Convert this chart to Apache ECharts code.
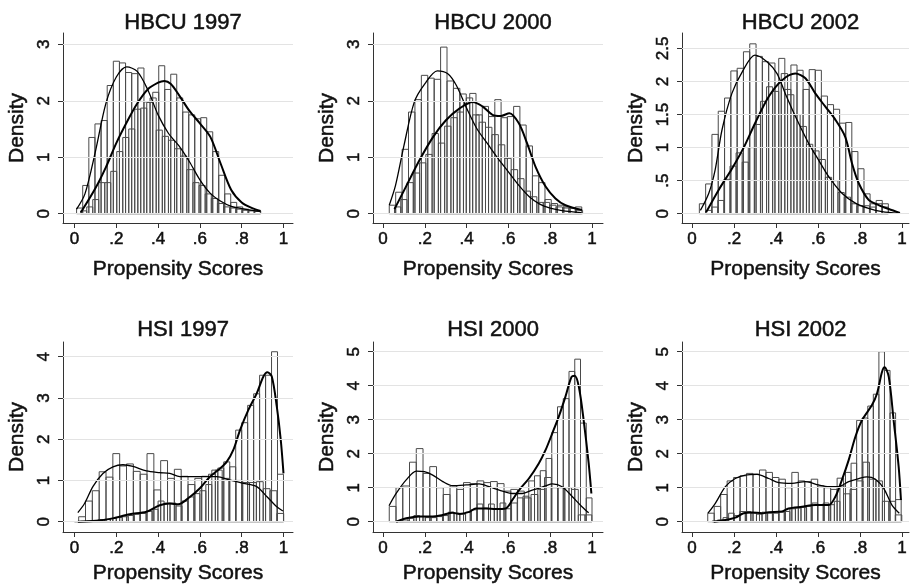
<!DOCTYPE html>
<html><head><meta charset="utf-8">
<script src="https://cdn.jsdelivr.net/npm/echarts@6/dist/echarts.min.js"></script>
<style>html,body{margin:0;padding:0;background:#fff}#c{width:910px;height:587px}</style>
</head><body><div id="c"></div><script>
// ---------------- DATA ----------------
const titles = ['HBCU 1997', 'HBCU 2000', 'HBCU 2002', 'HSI 1997', 'HSI 2000', 'HSI 2002'];
const xTicks = [0, 0.2, 0.4, 0.6, 0.8, 1];
const yTicksHBCU = [0, 1, 2, 3];
const yTicksHBCU02 = [0, 0.5, 1, 1.5, 2, 2.5];
const yTicksHSI97 = [0, 1, 2, 3, 4];
const yTicksHSI = [0, 1, 2, 3, 4, 5];

// histogram bins: first left edge and bin width (control / treated)
const ctrlBinStart = [0.01, 0.03, 0.035, 0.02, 0.03, 0.075];
const ctrlBinWidth = [0.0293, 0.0307, 0.03, 0.0327, 0.0323, 0.0308];
const trtBinStart = [0.03, 0.055, 0.065, 0.0, 0.065, 0.095];
const trtBinWidth = [0.0287, 0.03, 0.029, 0.02857, 0.0275, 0.0265];

// histogram heights (density)
const hbcu97Ctrl = [0.10,0.50,1.35,1.59,1.65,2.27,2.70,2.67,2.50,2.48,2.58,1.98,2.05,1.48,1.37,1.30,1.15,1.02,0.78,0.55,0.50,0.35,0.27,0.18,0.12,0.10,0.08,0.06,0.05,0.04];
const hbcu97Trt = [0.05,0.12,0.25,0.55,0.55,0.75,1.10,1.35,1.50,1.85,1.87,1.97,2.15,2.62,2.20,2.47,2.05,1.80,1.75,1.68,1.70,1.45,1.10,0.68,0.35,0.20,0.12,0.08,0.06,0.05];
const hbcu00Ctrl = [0.15,0.38,1.14,1.80,2.02,2.45,2.40,2.38,2.95,2.35,2.22,2.12,2.05,1.75,1.62,1.53,1.40,1.22,0.98,0.78,0.62,0.40,0.30,0.20,0.20,0.15,0.12,0.10,0.10,0.12];
const hbcu00Trt = [0.12,0.25,0.55,0.72,0.90,1.05,1.42,1.25,1.55,1.70,1.80,1.95,2.13,1.75,1.90,1.72,2.02,1.70,1.72,1.90,1.57,1.20,0.67,0.55,0.25,0.18,0.15,0.12,0.10,0.06];
const hbcu02Ctrl = [0.15,0.45,1.20,1.55,1.75,2.16,2.20,2.45,2.57,2.38,2.30,2.28,2.00,2.12,1.80,1.50,1.32,1.05,0.95,0.82,0.55,0.50,0.32,0.25,0.15,0.12,0.12,0.10,0.15,0.10];
const hbcu02Trt = [0.05,0.10,0.20,0.52,0.72,0.92,0.78,1.00,1.35,1.70,1.92,1.85,2.35,1.88,2.25,2.17,1.88,2.18,2.17,1.78,1.65,1.58,1.37,1.38,0.94,0.68,0.30,0.15,0.20,0.15];
const hsi97Ctrl = [0.12,0.50,0.75,1.21,1.08,1.65,1.35,1.40,1.22,1.15,1.65,0.77,1.48,1.05,1.27,1.10,0.90,1.05,1.10,1.15,1.25,1.05,1.00,1.00,0.95,0.95,0.97,0.80,0.75,0.20];
const hsi97Trt = [0.00,0.01,0.02,0.03,0.05,0.06,0.08,0.10,0.12,0.15,0.18,0.20,0.25,0.30,0.50,0.45,0.45,0.38,0.50,0.60,0.68,0.75,0.90,1.25,1.30,1.45,1.33,2.22,2.40,2.82,3.10,3.55,3.55,4.12,1.15];
const hsi00Ctrl = [0.45,1.00,1.05,1.75,2.15,1.42,1.62,1.00,0.80,1.05,0.95,1.15,1.12,1.20,1.15,1.18,1.12,0.90,0.95,0.90,0.70,0.80,0.95,1.30,1.00,1.00,1.00,0.95,0.20,0.20];
const hsi00Trt = [0.02,0.05,0.10,0.18,0.15,0.12,0.12,0.15,0.18,0.28,0.25,0.22,0.28,0.35,0.52,0.40,0.52,0.38,0.55,0.38,0.55,0.70,0.75,1.20,1.35,1.50,1.86,2.62,3.38,3.62,4.42,4.78,2.90,0.70];
const hsi02Ctrl = [0.25,0.45,0.80,1.20,1.30,1.35,1.42,1.40,1.52,1.45,1.30,1.25,1.00,1.45,1.20,1.18,1.25,1.05,1.00,0.95,1.28,0.82,0.95,1.20,1.75,1.25,1.20,0.60,0.60,0.20];
const hsi02Trt = [0.02,0.05,0.12,0.25,0.18,0.30,0.30,0.25,0.22,0.28,0.25,0.25,0.28,0.30,0.38,0.40,0.42,0.45,0.55,0.50,0.55,0.50,0.60,1.05,1.45,1.72,2.98,3.05,3.40,3.75,5.00,4.45,3.20,0.65];

// kernel density curves [score, density]
const hbcu97CtrlKd = [[0.01,0.08],[0.05,0.35],[0.1,1.1],[0.15,1.95],[0.2,2.42],[0.25,2.6],[0.3,2.52],[0.35,2.2],[0.4,1.75],[0.45,1.42],[0.5,1.2],[0.55,0.92],[0.6,0.6],[0.65,0.36],[0.7,0.22],[0.75,0.13],[0.8,0.09],[0.85,0.06],[0.89,0.04]];
const hbcu97TrtKd = [[0.03,0.02],[0.1,0.45],[0.15,0.82],[0.2,1.25],[0.25,1.62],[0.3,1.95],[0.35,2.2],[0.4,2.32],[0.43,2.35],[0.46,2.3],[0.5,2.1],[0.55,1.82],[0.6,1.6],[0.65,1.36],[0.7,0.88],[0.75,0.42],[0.8,0.2],[0.85,0.1],[0.89,0.05]];
const hbcu00CtrlKd = [[0.03,0.15],[0.06,0.5],[0.1,1.2],[0.15,1.98],[0.2,2.3],[0.26,2.53],[0.31,2.48],[0.35,2.28],[0.4,1.87],[0.45,1.5],[0.5,1.24],[0.55,0.98],[0.6,0.74],[0.65,0.5],[0.7,0.3],[0.75,0.17],[0.8,0.1],[0.85,0.06],[0.9,0.035],[0.95,0.02]];
const hbcu00TrtKd = [[0.055,0.08],[0.11,0.48],[0.175,0.95],[0.24,1.36],[0.3,1.65],[0.365,1.86],[0.43,1.98],[0.476,1.9],[0.524,1.75],[0.563,1.73],[0.605,1.78],[0.65,1.6],[0.69,1.24],[0.73,0.83],[0.778,0.48],[0.825,0.27],[0.873,0.15],[0.952,0.065]];
const hbcu02CtrlKd = [[0.04,0.05],[0.08,0.31],[0.11,0.66],[0.143,1.27],[0.19,1.82],[0.24,2.15],[0.3,2.4],[0.357,2.3],[0.405,2.12],[0.444,1.82],[0.5,1.42],[0.556,1.06],[0.603,0.81],[0.651,0.56],[0.714,0.31],[0.778,0.16],[0.841,0.08],[0.905,0.03],[0.984,0.005]];
const hbcu02TrtKd = [[0.067,0.02],[0.127,0.36],[0.19,0.68],[0.246,1.0],[0.302,1.38],[0.365,1.77],[0.429,2.02],[0.492,2.12],[0.54,2.05],[0.587,1.82],[0.635,1.62],[0.683,1.42],[0.73,1.16],[0.762,0.76],[0.794,0.46],[0.841,0.21],[0.889,0.13],[0.937,0.07],[0.99,0.01]];
const hsi97CtrlKd = [[0.016,0.22],[0.048,0.44],[0.088,0.85],[0.136,1.17],[0.184,1.33],[0.232,1.38],[0.28,1.34],[0.344,1.23],[0.408,1.19],[0.456,1.17],[0.504,1.09],[0.552,1.09],[0.616,1.09],[0.68,1.09],[0.744,1.01],[0.808,0.93],[0.872,0.85],[0.92,0.61],[0.968,0.36],[0.997,0.26]];
const hsi97TrtKd = [[0.016,0.0],[0.104,0.02],[0.184,0.08],[0.264,0.18],[0.344,0.24],[0.408,0.40],[0.456,0.44],[0.496,0.42],[0.552,0.6],[0.6,0.81],[0.648,1.09],[0.696,1.29],[0.728,1.45],[0.76,1.74],[0.792,2.22],[0.832,2.71],[0.872,3.11],[0.904,3.52],[0.923,3.62],[0.944,3.52],[0.968,2.79],[0.987,1.98],[1.0,1.17]];
const hsi00CtrlKd = [[0.029,0.47],[0.063,0.83],[0.111,1.23],[0.159,1.49],[0.198,1.47],[0.238,1.37],[0.286,1.18],[0.333,1.06],[0.397,1.08],[0.46,1.11],[0.508,1.03],[0.556,0.93],[0.619,0.83],[0.667,0.83],[0.714,0.93],[0.778,1.05],[0.81,1.11],[0.857,1.03],[0.905,0.74],[0.952,0.44],[0.984,0.26]];
const hsi00TrtKd = [[0.063,0.0],[0.111,0.1],[0.175,0.15],[0.238,0.15],[0.286,0.2],[0.333,0.26],[0.365,0.23],[0.413,0.29],[0.444,0.39],[0.492,0.39],[0.54,0.37],[0.587,0.39],[0.619,0.64],[0.651,0.93],[0.698,1.27],[0.746,1.72],[0.778,2.11],[0.81,2.6],[0.841,3.09],[0.873,3.68],[0.902,4.26],[0.917,4.29],[0.937,3.97],[0.96,2.99],[0.984,1.72],[0.997,0.83]];
const hsi02CtrlKd = [[0.076,0.25],[0.111,0.54],[0.159,1.03],[0.206,1.27],[0.254,1.37],[0.31,1.39],[0.365,1.27],[0.413,1.15],[0.476,1.13],[0.54,1.18],[0.603,1.08],[0.651,1.03],[0.698,1.03],[0.746,1.18],[0.794,1.27],[0.833,1.32],[0.873,1.25],[0.913,0.98],[0.952,0.49],[0.987,0.25]];
const hsi02TrtKd = [[0.103,0.0],[0.159,0.05],[0.206,0.12],[0.246,0.25],[0.286,0.27],[0.333,0.25],[0.365,0.28],[0.429,0.3],[0.46,0.39],[0.524,0.44],[0.587,0.49],[0.651,0.49],[0.683,0.74],[0.714,1.23],[0.746,1.81],[0.778,2.5],[0.81,2.99],[0.857,3.43],[0.881,3.77],[0.905,4.41],[0.917,4.54],[0.937,4.26],[0.96,2.99],[0.984,1.62],[0.995,0.64]];

// ---------------- LAYOUT ----------------
const FONT = "'Liberation Sans', Arial, Helvetica, sans-serif";
const INK = '#111';
const panels = [
  {ctrl: hbcu97Ctrl, trt: hbcu97Trt, ck: hbcu97CtrlKd, tk: hbcu97TrtKd, yt: yTicksHBCU},
  {ctrl: hbcu00Ctrl, trt: hbcu00Trt, ck: hbcu00CtrlKd, tk: hbcu00TrtKd, yt: yTicksHBCU},
  {ctrl: hbcu02Ctrl, trt: hbcu02Trt, ck: hbcu02CtrlKd, tk: hbcu02TrtKd, yt: yTicksHBCU02},
  {ctrl: hsi97Ctrl, trt: hsi97Trt, ck: hsi97CtrlKd, tk: hsi97TrtKd, yt: yTicksHSI97},
  {ctrl: hsi00Ctrl, trt: hsi00Trt, ck: hsi00CtrlKd, tk: hsi00TrtKd, yt: yTicksHSI},
  {ctrl: hsi02Ctrl, trt: hsi02Trt, ck: hsi02CtrlKd, tk: hsi02TrtKd, yt: yTicksHSI}
];
const gridBox = [
  {left: 63, top: 33, width: 230, height: 190},
  {left: 373, top: 33, width: 230, height: 190},
  {left: 682, top: 33, width: 227, height: 190},
  {left: 63, top: 342, width: 230, height: 190},
  {left: 373, top: 342, width: 230, height: 190},
  {left: 682, top: 342, width: 227, height: 190}
];
const xRange = [[-0.055, 1.0455], [-0.0478, 1.0526], [-0.0476, 1.0333], [-0.055, 1.0455], [-0.0478, 1.0526], [-0.0476, 1.0333]];
const yRange = [[-0.165, 3.2], [-0.165, 3.2], [-0.141, 2.734], [-0.25, 4.356], [-0.303, 5.285], [-0.303, 5.285]];
const titleTop = [7, 7, 7, 314, 314, 314];
const xNameGap = [36, 36, 36, 31, 31, 31];

function fmt(v) {
  const s = String(Math.round(v * 100) / 100);
  return s.replace(/^0\./, '.');
}
function binsOf(start, width, heights) {
  return heights.map((h, i) => [start + i * width, start + (i + 1) * width, h]);
}
function histRender(params, api) {
  const a = api.coord([api.value(0), 0]);
  const b = api.coord([api.value(1), api.value(2)]);
  return {
    type: 'rect',
    shape: {x: a[0], y: b[1], width: b[0] - a[0], height: a[1] - b[1]},
    style: {fill: 'none', stroke: '#4a4a4a', lineWidth: 1}
  };
}
const heavy = {textBorderColor: INK, textBorderWidth: 0.5};

const option = {
  backgroundColor: '#fff',
  animation: false,
  textStyle: {fontFamily: FONT, color: INK},
  title: [], grid: [], xAxis: [], yAxis: [], series: []
};

panels.forEach((p, i) => {
  const g = gridBox[i];
  option.title.push({
    text: titles[i], left: g.left + g.width / 2, top: titleTop[i], textAlign: 'center',
    textStyle: Object.assign({fontFamily: FONT, fontSize: 22, fontWeight: 'normal', color: INK}, heavy)
  });
  option.grid.push({left: g.left, top: g.top, width: g.width, height: g.height, containLabel: false});
  option.xAxis.push({
    type: 'value', gridIndex: i, min: xRange[i][0], max: xRange[i][1],
    name: 'Propensity Scores', nameLocation: 'middle', nameGap: xNameGap[i],
    nameTextStyle: Object.assign({fontFamily: FONT, fontSize: 21, color: INK}, heavy),
    axisLine: {show: true, onZero: false, lineStyle: {color: '#333', width: 1}},
    axisTick: {show: true, length: 5, customValues: xTicks, lineStyle: {color: '#333'}},
    axisLabel: Object.assign({customValues: xTicks, formatter: fmt, fontSize: 17, color: INK, margin: 8, fontFamily: FONT}, heavy),
    splitLine: {show: false}
  });
  option.yAxis.push({
    type: 'value', gridIndex: i, min: yRange[i][0], max: yRange[i][1],
    name: 'Density', nameLocation: 'middle', nameGap: 35,
    nameTextStyle: Object.assign({fontFamily: FONT, fontSize: 21, color: INK}, heavy),
    axisLine: {show: true, onZero: false, lineStyle: {color: '#333', width: 1}},
    axisTick: {show: true, length: 5, customValues: p.yt, lineStyle: {color: '#333'}},
    axisLabel: Object.assign({customValues: p.yt, formatter: fmt, rotate: 90, fontSize: 17, color: INK, margin: 10, fontFamily: FONT}, heavy),
    splitLine: {show: false}
  });
  // gridlines at labelled y values
  option.series.push({
    type: 'line', xAxisIndex: i, yAxisIndex: i, data: [], z: 1, silent: true,
    markLine: {
      silent: true, symbol: ['none', 'none'], label: {show: false},
      lineStyle: {color: '#e3e3e3', width: 1, type: 'solid'},
      data: p.yt.map(v => ({yAxis: v}))
    }
  });
  option.series.push({
    type: 'custom', xAxisIndex: i, yAxisIndex: i, z: 2, clip: true,
    renderItem: histRender, encode: {x: [0, 1], y: 2},
    data: binsOf(ctrlBinStart[i], ctrlBinWidth[i], p.ctrl)
  });
  option.series.push({
    type: 'custom', xAxisIndex: i, yAxisIndex: i, z: 2, clip: true,
    renderItem: histRender, encode: {x: [0, 1], y: 2},
    data: binsOf(trtBinStart[i], trtBinWidth[i], p.trt)
  });
  option.series.push({
    type: 'line', xAxisIndex: i, yAxisIndex: i, z: 3, data: p.ck, showSymbol: false,
    smooth: 0.3, lineStyle: {color: '#000', width: 1.3}
  });
  option.series.push({
    type: 'line', xAxisIndex: i, yAxisIndex: i, z: 3, data: p.tk, showSymbol: false,
    smooth: 0.3, lineStyle: {color: '#000', width: 2}
  });
});

const chart = echarts.init(document.getElementById('c'));
chart.setOption(option);
</script></body></html>
